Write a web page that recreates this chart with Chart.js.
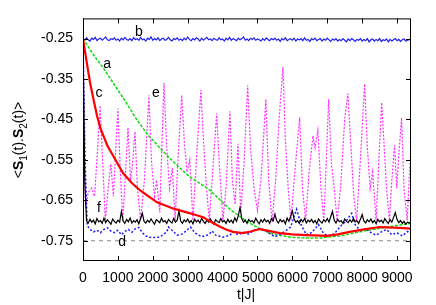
<!DOCTYPE html>
<html>
<head>
<meta charset="utf-8">
<script src="https://cdn.jsdelivr.net/npm/chart.js@4.4.0/dist/chart.umd.min.js"></script>
<style>
    body { margin: 0; background: #fff; }
    canvas { display: block; }
</style>
</head>
<body>
<canvas id="spinChart" width="436" height="305"></canvas>
<script>
// tick labels
const xTicks = [0, 1000, 2000, 3000, 4000, 5000, 6000, 7000, 8000, 9000];
const yTicks = [-0.75, -0.65, -0.55, -0.45, -0.35, -0.25];

// curve a (green)
const aT = [0, 300, 600, 860, 1200, 1500, 1830, 2200, 2490, 2800, 3060, 3350, 3640, 4000, 4250, 4500, 4750, 4980, 5350, 5650, 5930, 6400, 6800, 7360, 7930, 8500, 9080, 9400];
const aV = [-0.25, -0.29, -0.325, -0.359, -0.403, -0.445, -0.485, -0.52, -0.546, -0.572, -0.592, -0.608, -0.625, -0.655, -0.675, -0.69, -0.705, -0.716, -0.731, -0.737, -0.741, -0.743, -0.743, -0.738, -0.728, -0.719, -0.711, -0.707];

// curve c (red)
const cT = [0, 100, 200, 300, 400, 500, 700, 860, 1150, 1400, 1630, 2120, 2580, 2900, 3260, 3450, 3600, 3730, 3900, 4100, 4300, 4580, 4800, 5070, 5350, 5640, 6000, 6410, 6990, 7300, 7640, 8100, 8500, 9080, 9400];
const cV = [-0.25, -0.305, -0.358, -0.40, -0.44, -0.472, -0.515, -0.539, -0.583, -0.607, -0.625, -0.655, -0.67, -0.678, -0.687, -0.692, -0.70, -0.706, -0.714, -0.722, -0.728, -0.731, -0.727, -0.721, -0.726, -0.731, -0.734, -0.736, -0.738, -0.734, -0.728, -0.721, -0.716, -0.718, -0.72];

// curve b (blue, noisy), sampled every 50
const bV = [
    -0.250, -0.254, -0.248, -0.253, -0.256, -0.249, -0.252, -0.247, -0.255, -0.251,
    -0.249, -0.254, -0.250, -0.246, -0.253, -0.255, -0.250, -0.252, -0.248, -0.254,
    -0.251, -0.256, -0.249, -0.253, -0.247, -0.252, -0.254, -0.250, -0.255, -0.248,
    -0.252, -0.250, -0.254, -0.247, -0.253, -0.251, -0.256, -0.249, -0.252, -0.246,
    -0.254, -0.250, -0.253, -0.248, -0.255, -0.251, -0.249, -0.254, -0.252, -0.247,
    -0.253, -0.256, -0.250, -0.252, -0.248, -0.254, -0.251, -0.255, -0.249, -0.253,
    -0.246, -0.252, -0.255, -0.250, -0.253, -0.248, -0.251, -0.256, -0.249, -0.254,
    -0.250, -0.247, -0.253, -0.251, -0.255, -0.249, -0.252, -0.254, -0.248, -0.253,
    -0.251, -0.256, -0.249, -0.253, -0.247, -0.254, -0.250, -0.252, -0.255, -0.249,
    -0.253, -0.250, -0.246, -0.254, -0.251, -0.255, -0.249, -0.252, -0.248, -0.254,
    -0.251, -0.253, -0.256, -0.250, -0.254, -0.248, -0.252, -0.255, -0.250, -0.253,
    -0.249, -0.254, -0.251, -0.257, -0.250, -0.253, -0.248, -0.255, -0.252, -0.250,
    -0.254, -0.249, -0.256, -0.251, -0.253, -0.250, -0.255, -0.248, -0.254, -0.252,
    -0.257, -0.250, -0.253, -0.249, -0.255, -0.252, -0.250, -0.256, -0.251, -0.254,
    -0.249, -0.253, -0.257, -0.251, -0.254, -0.250, -0.256, -0.252, -0.255, -0.250,
    -0.254, -0.258, -0.251, -0.255, -0.250, -0.253, -0.257, -0.252, -0.254, -0.250,
    -0.256, -0.252, -0.255, -0.250, -0.258, -0.253, -0.251, -0.256, -0.252, -0.255,
    -0.250, -0.257, -0.253, -0.255, -0.251, -0.258, -0.252, -0.256, -0.253, -0.250,
    -0.255, -0.252, -0.257, -0.253, -0.251, -0.256, -0.254, -0.252, -0.255
];

// curve f (black, noisy), sampled every 50
const fV = [
    -0.250, -0.600, -0.700, -0.706, -0.697, -0.704, -0.699, -0.708, -0.695, -0.703,
    -0.700, -0.707, -0.694, -0.705, -0.698, -0.703, -0.709, -0.696, -0.702, -0.706,
    -0.699, -0.704, -0.678, -0.701, -0.707, -0.697, -0.703, -0.694, -0.706, -0.700,
    -0.704, -0.698, -0.708, -0.695, -0.682, -0.702, -0.706, -0.699, -0.704, -0.696,
    -0.703, -0.709, -0.698, -0.701, -0.705, -0.694, -0.703, -0.700, -0.707, -0.697,
    -0.702, -0.706, -0.695, -0.704, -0.699, -0.676, -0.701, -0.707, -0.698, -0.703,
    -0.696, -0.705, -0.700, -0.708, -0.697, -0.703, -0.699, -0.706, -0.694, -0.702,
    -0.707, -0.699, -0.704, -0.696, -0.703, -0.709, -0.698, -0.702, -0.705, -0.695,
    -0.703, -0.700, -0.707, -0.697, -0.704, -0.699, -0.706, -0.693, -0.702, -0.688,
    -0.668, -0.695, -0.704, -0.699, -0.707, -0.697, -0.703, -0.700, -0.706, -0.694,
    -0.702, -0.708, -0.698, -0.704, -0.696, -0.703, -0.699, -0.707, -0.695, -0.701,
    -0.684, -0.700, -0.706, -0.697, -0.703, -0.699, -0.708, -0.694, -0.702, -0.690,
    -0.676, -0.696, -0.704, -0.700, -0.707, -0.697, -0.703, -0.695, -0.706, -0.699,
    -0.703, -0.697, -0.705, -0.700, -0.708, -0.696, -0.702, -0.706, -0.698, -0.703,
    -0.695, -0.704, -0.690, -0.677, -0.699, -0.706, -0.697, -0.703, -0.700, -0.707,
    -0.696, -0.702, -0.705, -0.698, -0.704, -0.695, -0.703, -0.700, -0.707, -0.697,
    -0.685, -0.701, -0.706, -0.698, -0.703, -0.696, -0.705, -0.700, -0.708, -0.697,
    -0.703, -0.699, -0.706, -0.695, -0.702, -0.707, -0.698, -0.704, -0.692, -0.680,
    -0.697, -0.705, -0.700, -0.707, -0.702, -0.709, -0.704, -0.706, -0.703
];

// lower blue dotted curve
const gT = [0, 60, 120, 200, 300, 400, 500, 600, 700, 800, 900, 1000, 1100, 1200, 1300, 1400, 1500, 1600, 1700, 1800, 1900, 2000, 2200, 2400, 2450, 2550, 2700, 2850, 3000, 3080, 3200, 3400, 3600, 3700, 3800, 4000, 4200, 4300, 4450, 4600, 4750, 4900, 5050, 5200, 5350, 5500, 5650, 5800, 5950, 6050, 6120, 6250, 6400, 6550, 6750, 6900, 7050, 7200, 7400, 7550, 7700, 7800, 7950, 8100, 8250, 8400, 8550, 8700, 8850, 9000, 9150, 9300, 9400];
const gV = [-0.25, -0.55, -0.712, -0.722, -0.728, -0.724, -0.73, -0.722, -0.718, -0.726, -0.73, -0.724, -0.735, -0.727, -0.722, -0.729, -0.72, -0.717, -0.73, -0.738, -0.741, -0.742, -0.741, -0.728, -0.716, -0.724, -0.736, -0.733, -0.722, -0.716, -0.73, -0.74, -0.735, -0.726, -0.736, -0.741, -0.737, -0.728, -0.735, -0.729, -0.733, -0.724, -0.72, -0.723, -0.732, -0.74, -0.734, -0.726, -0.716, -0.69, -0.672, -0.71, -0.735, -0.73, -0.71, -0.733, -0.737, -0.733, -0.712, -0.70, -0.682, -0.71, -0.725, -0.72, -0.73, -0.736, -0.728, -0.722, -0.735, -0.73, -0.738, -0.727, -0.732];

// curve e (magenta, oscillating)
const eT = [0, 40, 80, 150, 250, 330, 400, 490, 560, 640, 720, 800, 870, 940, 1000, 1070, 1140, 1220, 1290, 1360, 1420, 1490, 1560, 1650, 1760, 1890, 1960, 2050, 2110, 2200, 2320, 2400, 2480, 2560, 2640, 2720, 2830, 2900, 2980, 3060, 3150, 3250, 3380, 3450, 3540, 3620, 3700, 3830, 3900, 4010, 4100, 4210, 4280, 4360, 4440, 4520, 4620, 4720, 4800, 4900, 5000, 5100, 5240, 5320, 5420, 5520, 5620, 5730, 5800, 5880, 5960, 6050, 6210, 6290, 6380, 6480, 6590, 6650, 6730, 6820, 6900, 6960, 7040, 7120, 7200, 7280, 7380, 7500, 7590, 7680, 7760, 7840, 7950, 8070, 8150, 8230, 8300, 8400, 8480, 8560, 8620, 8700, 8780, 8850, 8930, 8990, 9040, 9130, 9200, 9290, 9390];
const eV = [-0.25, -0.60, -0.66, -0.63, -0.62, -0.64, -0.55, -0.416, -0.55, -0.70, -0.62, -0.56, -0.64, -0.52, -0.423, -0.58, -0.70, -0.58, -0.47, -0.60, -0.56, -0.48, -0.62, -0.70, -0.60, -0.39, -0.55, -0.64, -0.60, -0.68, -0.36, -0.52, -0.62, -0.57, -0.70, -0.55, -0.39, -0.50, -0.58, -0.55, -0.70, -0.55, -0.377, -0.50, -0.62, -0.70, -0.60, -0.435, -0.55, -0.70, -0.62, -0.43, -0.60, -0.66, -0.51, -0.68, -0.55, -0.366, -0.52, -0.62, -0.675, -0.60, -0.40, -0.60, -0.704, -0.60, -0.45, -0.32, -0.50, -0.62, -0.70, -0.60, -0.445, -0.62, -0.70, -0.58, -0.49, -0.52, -0.477, -0.62, -0.70, -0.58, -0.40, -0.56, -0.62, -0.70, -0.62, -0.45, -0.386, -0.52, -0.64, -0.70, -0.55, -0.362, -0.52, -0.62, -0.58, -0.70, -0.55, -0.408, -0.50, -0.62, -0.70, -0.60, -0.514, -0.62, -0.55, -0.446, -0.62, -0.70, -0.527];

// reference line d
const dT = [0, 9400];
const dV = [-0.75, -0.75];

// curve letters, placed in data coordinates
const letters = [
    { text: 'a', t: 690, v: -0.312 },
    { text: 'b', t: 1600, v: -0.234 },
    { text: 'c', t: 460, v: -0.384 },
    { text: 'e', t: 2090, v: -0.384 },
    { text: 'f', t: 460, v: -0.670 },
    { text: 'd', t: 1120, v: -0.754 }
];

const FONT = '"Liberation Sans", Arial, Helvetica, sans-serif';

function pairs(ts, vs) {
    return vs.map((v, i) => ({ x: ts[i], y: v }));
}

function everyFifty(vs) {
    return vs.map((v, i) => ({ x: i * 50, y: v }));
}

const framePlugin = {
    id: 'frame',
    afterDraw(chart) {
        const ctx = chart.ctx;
        const { left, right, top, bottom } = chart.chartArea;
        const xs = chart.scales.x;
        const ys = chart.scales.y;
        ctx.save();

        // border and inward ticks
        ctx.strokeStyle = '#000';
        ctx.lineWidth = 1;
        ctx.strokeRect(left + 0.5, top + 0.5, right - left - 1, bottom - top - 1);
        ctx.beginPath();
        xTicks.forEach(t => {
            const px = Math.round(xs.getPixelForValue(t)) + 0.5;
            ctx.moveTo(px, bottom);
            ctx.lineTo(px, bottom - 5);
            ctx.moveTo(px, top);
            ctx.lineTo(px, top + 5);
        });
        yTicks.forEach(v => {
            const py = Math.round(ys.getPixelForValue(v)) + 0.5;
            ctx.moveTo(left, py);
            ctx.lineTo(left + 5, py);
            ctx.moveTo(right, py);
            ctx.lineTo(right - 5, py);
        });
        ctx.stroke();

        // letters
        ctx.fillStyle = '#000';
        ctx.font = '14px ' + FONT;
        ctx.textAlign = 'center';
        ctx.textBaseline = 'middle';
        letters.forEach(l => {
            ctx.fillText(l.text, xs.getPixelForValue(l.t), ys.getPixelForValue(l.v));
        });

        // x title
        ctx.fillText('t|J|', 246, 295);

        // y title with bold S and subscripts
        const parts = [
            { s: '<', f: '14px ' + FONT, dy: 0 },
            { s: 'S', f: 'bold 14px ' + FONT, dy: 0 },
            { s: '1', f: '10px ' + FONT, dy: 4 },
            { s: '(t).', f: '14px ' + FONT, dy: 0 },
            { s: 'S', f: 'bold 14px ' + FONT, dy: 0 },
            { s: '2', f: '10px ' + FONT, dy: 4 },
            { s: '(t)>', f: '14px ' + FONT, dy: 0 }
        ];
        let total = 0;
        parts.forEach(p => { ctx.font = p.f; p.w = ctx.measureText(p.s).width; total += p.w; });
        ctx.translate(18, 140);
        ctx.rotate(-Math.PI / 2);
        ctx.textAlign = 'left';
        ctx.textBaseline = 'alphabetic';
        let x = -total / 2;
        parts.forEach(p => {
            ctx.font = p.f;
            ctx.fillText(p.s, x, 5 + p.dy);
            x += p.w;
        });
        ctx.restore();
    }
};

const ctx = document.getElementById('spinChart').getContext('2d');
new Chart(ctx, {
    type: 'line',
    data: {
        datasets: [
            {
                label: 'c',
                data: pairs(cT, cV),
                borderColor: '#ff0000',
                borderWidth: 2.2,
                order: 1
            },
            {
                label: 'f',
                data: everyFifty(fV),
                borderColor: '#000000',
                borderWidth: 1.2,
                order: 2
            },
            {
                label: 'blue lower',
                data: pairs(gT, gV),
                borderColor: '#1a1aff',
                borderWidth: 1.5,
                borderDash: [2, 2],
                order: 3
            },
            {
                label: 'a',
                data: pairs(aT, aV),
                borderColor: '#11dd11',
                borderWidth: 1.5,
                borderDash: [3, 1.5],
                order: 4
            },
            {
                label: 'b',
                data: everyFifty(bV),
                borderColor: '#1e1eee',
                borderWidth: 1.2,
                order: 5
            },
            {
                label: 'e',
                data: pairs(eT, eV),
                borderColor: '#ff33ff',
                borderWidth: 1.2,
                borderDash: [2, 1.5],
                order: 6
            },
            {
                label: 'd',
                data: pairs(dT, dV),
                borderColor: '#888888',
                borderWidth: 1,
                borderDash: [4, 4],
                order: 7
            }
        ]
    },
    options: {
        responsive: false,
        animation: false,
        events: [],
        layout: { padding: { top: 17, right: 25, left: 0, bottom: 0 } },
        elements: {
            point: { radius: 0 },
            line: { tension: 0, fill: false }
        },
        plugins: {
            legend: { display: false },
            tooltip: { enabled: false }
        },
        scales: {
            x: {
                type: 'linear',
                min: 0,
                max: 9400,
                afterBuildTicks: scale => { scale.ticks = xTicks.map(v => ({ value: v })); },
                afterFit: scale => { scale.height = 44; },
                grid: { display: false, drawTicks: false },
                border: { display: false },
                ticks: {
                    color: '#000',
                    padding: 9,
                    maxRotation: 0,
                    autoSkip: false,
                    font: { family: FONT, size: 14 },
                    callback: v => String(v)
                }
            },
            y: {
                type: 'linear',
                min: -0.8,
                max: -0.2,
                afterBuildTicks: scale => { scale.ticks = yTicks.map(v => ({ value: v })); },
                afterFit: scale => { scale.width = 83; },
                grid: { display: false, drawTicks: false },
                border: { display: false },
                ticks: {
                    color: '#000',
                    padding: 10,
                    autoSkip: false,
                    font: { family: FONT, size: 14 },
                    callback: v => v.toFixed(2)
                }
            }
        }
    },
    plugins: [framePlugin]
});
</script>
</body>
</html>
